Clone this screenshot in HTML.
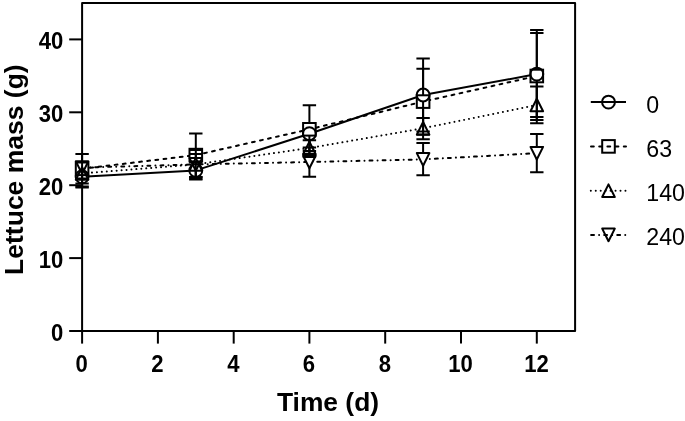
<!DOCTYPE html>
<html><head><meta charset="utf-8"><title>Lettuce mass</title>
<style>html,body{margin:0;padding:0;background:#fff}svg{display:block}text{font-family:"Liberation Sans",Arial,sans-serif;fill:#000}.b{font-weight:bold}</style></head><body>
<svg width="685" height="421" viewBox="0 0 685 421">
<rect width="685" height="421" fill="#fff"/>
<defs>
<mask id="mc" maskUnits="userSpaceOnUse" x="0" y="0" width="685" height="421"><rect width="685" height="421" fill="#fff"/><g fill="#000" stroke="#000" stroke-width="0.6">
<circle cx="82.1" cy="176.8" r="6.45"/>
<circle cx="195.8" cy="170.4" r="6.45"/>
<circle cx="309.4" cy="133.7" r="6.45"/>
<circle cx="423.1" cy="95.0" r="6.45"/>
<circle cx="536.8" cy="74.1" r="6.45"/>
</g></mask>
<mask id="ms" maskUnits="userSpaceOnUse" x="0" y="0" width="685" height="421"><rect width="685" height="421" fill="#fff"/><g fill="#000" stroke="#000" stroke-width="0.6">
<rect x="75.8" y="162.5" width="12.6" height="12.6" stroke-linejoin="miter"/>
<rect x="189.5" y="148.8" width="12.6" height="12.6" stroke-linejoin="miter"/>
<rect x="303.1" y="123.0" width="12.6" height="12.6" stroke-linejoin="miter"/>
<rect x="416.8" y="95.3" width="12.6" height="12.6" stroke-linejoin="miter"/>
<rect x="530.5" y="69.7" width="12.6" height="12.6" stroke-linejoin="miter"/>
</g></mask>
<mask id="mu" maskUnits="userSpaceOnUse" x="0" y="0" width="685" height="421"><rect width="685" height="421" fill="#fff"/><g fill="#000" stroke="#000" stroke-width="0.6">
<path d="M82.1 167.1L88.4 179.7H75.8Z"/>
<path d="M195.8 158.1L202.1 170.7H189.5Z"/>
<path d="M309.4 141.7L315.7 154.3H303.1Z"/>
<path d="M423.1 122.0L429.4 134.6H416.8Z"/>
<path d="M536.8 98.7L543.1 111.3H530.5Z"/>
</g></mask>
<mask id="md" maskUnits="userSpaceOnUse" x="0" y="0" width="685" height="421"><rect width="685" height="421" fill="#fff"/><g fill="#000" stroke="#000" stroke-width="0.6">
<path d="M82.1 173.9L88.4 161.3H75.8Z"/>
<path d="M195.8 170.7L202.1 158.1H189.5Z"/>
<path d="M309.4 168.3L315.7 155.7H303.1Z"/>
<path d="M423.1 165.7L429.4 153.1H416.8Z"/>
<path d="M536.8 159.5L543.1 146.9H530.5Z"/>
</g></mask>
</defs>
<g fill="none" stroke="#000" stroke-width="2.0" stroke-linejoin="round">
<g mask="url(#mc)">
<path d="M82.1 176.8V187.6M75.4 187.6H88.8"/>
<path d="M195.8 170.4V162.4M189.1 162.4H202.5M195.8 170.4V178.8M189.1 178.8H202.5"/>
<path d="M309.4 133.7V151.0M302.7 151.0H316.1"/>
<path d="M423.1 95.0V58.6M416.4 58.6H429.8M423.1 95.0V131.6M416.4 131.6H429.8"/>
<path d="M536.8 74.1V29.9M530.1 29.9H543.5M536.8 74.1V117.0M530.1 117.0H543.5"/>
<polyline points="82.1,176.8 195.8,170.4 309.4,133.7 423.1,95.0 536.8,74.1"/>
</g>
<g mask="url(#ms)">
<path d="M82.1 168.8V154.0M75.4 154.0H88.8M82.1 168.8V183.4M75.4 183.4H88.8"/>
<path d="M195.8 155.1V133.5M189.1 133.5H202.5M195.8 155.1V177.0M189.1 177.0H202.5"/>
<path d="M309.4 129.3V105.3M302.7 105.3H316.1M309.4 129.3V153.8M302.7 153.8H316.1"/>
<path d="M423.1 101.6V68.75M416.4 68.75H429.8M423.1 101.6V134.8M416.4 134.8H429.8"/>
<path d="M536.8 76.0V32.9M530.1 32.9H543.5M536.8 76.0V119.9M530.1 119.9H543.5"/>
<polyline points="82.1,168.8 195.8,155.1 309.4,129.3 423.1,101.6 536.8,76.0" stroke-dasharray="2.8 5.4" stroke-linecap="round"/>
</g>
<g mask="url(#mu)">
<path d="M82.1 173.4V186.4M75.4 186.4H88.8"/>
<path d="M195.8 164.4V154.1M189.1 154.1H202.5M195.8 164.4V177.0M189.1 177.0H202.5"/>
<path d="M309.4 148.0V140.3M302.7 140.3H316.1M309.4 148.0V157.0M302.7 157.0H316.1"/>
<path d="M423.1 128.3V117.9M416.4 117.9H429.8M423.1 128.3V139.2M416.4 139.2H429.8"/>
<path d="M536.8 105.0V86.6M530.1 86.6H543.5M536.8 105.0V123.3M530.1 123.3H543.5"/>
<polyline points="82.1,173.4 195.8,164.4 309.4,148.0 423.1,128.3 536.8,105.0" stroke-dasharray="0.01 4.94" stroke-linecap="round"/>
</g>
<g mask="url(#md)">
<path d="M82.1 167.6V178.4M75.4 178.4H88.8"/>
<path d="M195.8 164.4V150.0M189.1 150.0H202.5M195.8 164.4V179.6M189.1 179.6H202.5"/>
<path d="M309.4 162.0V147.4M302.7 147.4H316.1M309.4 162.0V176.7M302.7 176.7H316.1"/>
<path d="M423.1 159.4V143.0M416.4 143.0H429.8M423.1 159.4V175.3M416.4 175.3H429.8"/>
<path d="M536.8 153.2V134.0M530.1 134.0H543.5M536.8 153.2V172.3M530.1 172.3H543.5"/>
<polyline points="82.1,167.6 195.8,164.4 309.4,162.0 423.1,159.4 536.8,153.2" stroke-dasharray="2.9 5.1 0.01 5.06" stroke-linecap="round"/>
</g>
<circle cx="82.1" cy="176.8" r="6.45"/>
<circle cx="195.8" cy="170.4" r="6.45"/>
<circle cx="309.4" cy="133.7" r="6.45"/>
<circle cx="423.1" cy="95.0" r="6.45"/>
<circle cx="536.8" cy="74.1" r="6.45"/>
<rect x="75.8" y="162.5" width="12.6" height="12.6" stroke-linejoin="miter"/>
<rect x="189.5" y="148.8" width="12.6" height="12.6" stroke-linejoin="miter"/>
<rect x="303.1" y="123.0" width="12.6" height="12.6" stroke-linejoin="miter"/>
<rect x="416.8" y="95.3" width="12.6" height="12.6" stroke-linejoin="miter"/>
<rect x="530.5" y="69.7" width="12.6" height="12.6" stroke-linejoin="miter"/>
<path d="M82.1 167.1L88.4 179.7H75.8Z"/>
<path d="M195.8 158.1L202.1 170.7H189.5Z"/>
<path d="M309.4 141.7L315.7 154.3H303.1Z"/>
<path d="M423.1 122.0L429.4 134.6H416.8Z"/>
<path d="M536.8 98.7L543.1 111.3H530.5Z"/>
<path d="M82.1 173.9L88.4 161.3H75.8Z"/>
<path d="M195.8 170.7L202.1 158.1H189.5Z"/>
<path d="M309.4 168.3L315.7 155.7H303.1Z"/>
<path d="M423.1 165.7L429.4 153.1H416.8Z"/>
<path d="M536.8 159.5L543.1 146.9H530.5Z"/>
<path d="M82.1 331.0V2.95H575.1V331.0Z" stroke-linejoin="round"/>
<path d="M69.2 331.0H82.1"/>
<path d="M69.2 258.1H82.1"/>
<path d="M69.2 185.2H82.1"/>
<path d="M69.2 112.3H82.1"/>
<path d="M69.2 39.4H82.1"/>
<path d="M82.1 331.0V343.6"/>
<path d="M157.9 331.0V343.6"/>
<path d="M233.7 331.0V343.6"/>
<path d="M309.4 331.0V343.6"/>
<path d="M385.2 331.0V343.6"/>
<path d="M461.0 331.0V343.6"/>
<path d="M536.8 331.0V343.6"/>
<path d="M590.8 102.1H626"/>
<circle cx="608.5" cy="102.1" r="6.45"/>
<path d="M591.0 146.4H626" stroke-dasharray="2.8 5.4" stroke-linecap="round"/>
<rect x="602.2" y="140.1" width="12.6" height="12.6" stroke-linejoin="miter"/>
<path d="M590.8 190.7H626" stroke-dasharray="0.01 4.94" stroke-linecap="round"/>
<path d="M608.5 184.4L614.8 197.0H602.2Z"/>
<path d="M591.1 234.9H626" stroke-dasharray="2.9 5.1 0.01 5.06" stroke-linecap="round"/>
<path d="M608.5 241.2L614.8 228.6H602.2Z"/>
</g>
<text class="b" transform="translate(63.4 340.9) scale(0.94 1)" font-size="23.5" text-anchor="end">0</text>
<text class="b" transform="translate(63.4 268.0) scale(0.94 1)" font-size="23.5" text-anchor="end">10</text>
<text class="b" transform="translate(63.4 195.1) scale(0.94 1)" font-size="23.5" text-anchor="end">20</text>
<text class="b" transform="translate(63.4 122.2) scale(0.94 1)" font-size="23.5" text-anchor="end">30</text>
<text class="b" transform="translate(63.4 49.3) scale(0.94 1)" font-size="23.5" text-anchor="end">40</text>
<text class="b" transform="translate(81.7 371.7) scale(0.94 1)" font-size="23.5" text-anchor="middle">0</text>
<text class="b" transform="translate(157.5 371.7) scale(0.94 1)" font-size="23.5" text-anchor="middle">2</text>
<text class="b" transform="translate(233.3 371.7) scale(0.94 1)" font-size="23.5" text-anchor="middle">4</text>
<text class="b" transform="translate(309.0 371.7) scale(0.94 1)" font-size="23.5" text-anchor="middle">6</text>
<text class="b" transform="translate(384.8 371.7) scale(0.94 1)" font-size="23.5" text-anchor="middle">8</text>
<text class="b" transform="translate(460.6 371.7) scale(0.94 1)" font-size="23.5" text-anchor="middle">10</text>
<text class="b" transform="translate(536.4 371.7) scale(0.94 1)" font-size="23.5" text-anchor="middle">12</text>
<text class="b" x="328" y="410.7" font-size="26.4" text-anchor="middle">Time (d)</text>
<text class="b" transform="translate(22.9 169.6) rotate(-90)" font-size="26.5" text-anchor="middle">Lettuce mass (g)</text>
<text x="646.3" y="112.5" font-size="23.2">0</text>
<text x="646.3" y="156.8" font-size="23.2">63</text>
<text x="646.3" y="201.1" font-size="23.2">140</text>
<text x="646.3" y="245.3" font-size="23.2">240</text>
</svg></body></html>
